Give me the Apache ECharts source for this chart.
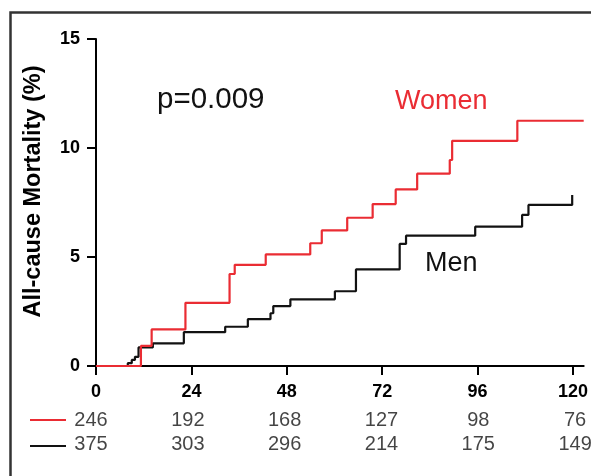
<!DOCTYPE html>
<html>
<head>
<meta charset="utf-8">
<script src="https://cdn.jsdelivr.net/npm/echarts@6/dist/echarts.min.js"></script>
<style>
html,body{margin:0;padding:0;background:#fff;}
#c{width:591px;height:476px;}
</style>
</head>
<body>
<div id="c"></div>
<script>
// ---- data ----
const monthTicks = [0, 24, 48, 72, 96, 120];
const riskWomen = [246, 192, 168, 127, 98, 76];
const riskMen = [375, 303, 296, 214, 175, 149];
const womenTime = [0, 11.3, 14.0, 22.5, 33.6, 34.9, 42.7, 53.9, 56.8, 63.2, 69.6, 75.4, 80.8, 89.0, 89.6, 106.0, 122.7];
const womenPct  = [0, 0.92, 1.68, 2.90, 4.22, 4.64, 5.12, 5.63, 6.22, 6.80, 7.43, 8.10, 8.82, 9.45, 10.33, 11.25, 11.25];
const menTime = [0, 8.0, 9.0, 9.8, 10.7, 14.3, 22.1, 32.5, 38.2, 43.9, 44.6, 48.9, 60.1, 65.4, 76.4, 78.0, 95.4, 107.2, 108.8, 119.8];
const menPct  = [0, 0.13, 0.28, 0.42, 0.85, 1.04, 1.55, 1.80, 2.15, 2.42, 2.75, 3.06, 3.43, 4.43, 5.60, 5.98, 6.39, 6.93, 7.39, 7.84];
const groups = ['Women', 'Men'];
const yTicksMax = 15;
const xMax = 122.7;

const FONT = '"Liberation Sans", Arial, Helvetica, sans-serif';
const RED = '#ea2c33';
const BLACK = '#121212';

const womenData = womenTime.map((t, i) => [t, womenPct[i]]);
const menData = menTime.map((t, i) => [t, menPct[i]]);
const riskData = [];
monthTicks.forEach((m, i) => {
  riskData.push([m, 'Women', riskWomen[i]]);
  riskData.push([m, 'Men', riskMen[i]]);
});

const chart = echarts.init(document.getElementById('c'), null, {renderer: 'canvas'});
chart.setOption({
  animation: false,
  backgroundColor: '#fff',
  textStyle: {fontFamily: FONT},
  grid: [
    {left: 96, right: 0, top: 39, bottom: 110, containLabel: false},
    {left: 96, right: 0, top: 408, bottom: 20, containLabel: false}
  ],
  legend: {
    data: groups,
    orient: 'vertical',
    left: 30,
    top: 419,
    padding: 0,
    icon: 'rect',
    itemWidth: 36,
    itemHeight: 2,
    itemGap: 24,
    formatter: () => '',
    textStyle: {fontSize: 1, lineHeight: 1},
    selectedMode: false
  },
  xAxis: [
    {
      type: 'value', gridIndex: 0, min: 0, max: xMax,
      splitLine: {show: false},
      axisLine: {show: true, lineStyle: {color: '#000', width: 2}},
      axisTick: {show: true, length: 9, lineStyle: {color: '#000', width: 2}, customValues: monthTicks},
      axisLabel: {
        customValues: monthTicks, margin: 17,
        fontFamily: FONT, fontSize: 18, fontWeight: 'bold', color: '#000'
      }
    },
    {
      type: 'value', gridIndex: 1, min: 0, max: xMax, show: false
    }
  ],
  yAxis: [
    {
      type: 'value', gridIndex: 0, min: 0, max: yTicksMax, interval: 5,
      splitLine: {show: false},
      axisLine: {show: true, lineStyle: {color: '#000', width: 2}},
      axisTick: {show: true, length: 9, lineStyle: {color: '#000', width: 2}},
      axisLabel: {margin: 16, fontFamily: FONT, fontSize: 18, fontWeight: 'bold', color: '#000'},
      name: 'All-cause Mortality (%)',
      nameLocation: 'middle',
      nameRotate: 90,
      nameGap: 50,
      nameTextStyle: {fontFamily: FONT, fontSize: 23.5, fontWeight: 'bold', color: '#000', padding: [0, 0, 0, 22]}
    },
    {
      type: 'category', gridIndex: 1, data: groups, inverse: true, show: false
    }
  ],
  series: [
    {
      name: 'Men', type: 'line', step: 'end', data: menData,
      xAxisIndex: 0, yAxisIndex: 0,
      symbol: 'none', color: BLACK,
      lineStyle: {color: BLACK, width: 2.2}
    },
    {
      name: 'Women', type: 'line', step: 'end', data: womenData,
      xAxisIndex: 0, yAxisIndex: 0,
      symbol: 'none', color: RED,
      lineStyle: {color: RED, width: 2.2}
    },
    {
      name: 'risk', type: 'scatter', data: riskData,
      xAxisIndex: 1, yAxisIndex: 1,
      symbolSize: 0, silent: true,
      label: {
        show: true, position: 'inside', offset: [-5, 0],
        formatter: p => String(p.value[2]),
        fontFamily: FONT, fontSize: 20, color: '#151515'
      }
    }
  ],
  graphic: [
    {
      type: 'rect', left: 8, top: 10, silent: true,
      shape: {width: 700, height: 700},
      style: {fill: 'none', stroke: '#333', lineWidth: 2.5}
    },
    {
      type: 'text', left: 157, top: 85, silent: true,
      style: {text: 'p=0.009', fontFamily: FONT, fontSize: 29.5, fill: '#111'}
    },
    {
      type: 'text', left: 395, top: 88, silent: true,
      style: {text: 'Women', fontFamily: FONT, fontSize: 27, fill: RED}
    },
    {
      type: 'text', left: 425, top: 250, silent: true,
      style: {text: 'Men', fontFamily: FONT, fontSize: 27, fill: '#111'}
    }
  ]
});
</script>
</body>
</html>
